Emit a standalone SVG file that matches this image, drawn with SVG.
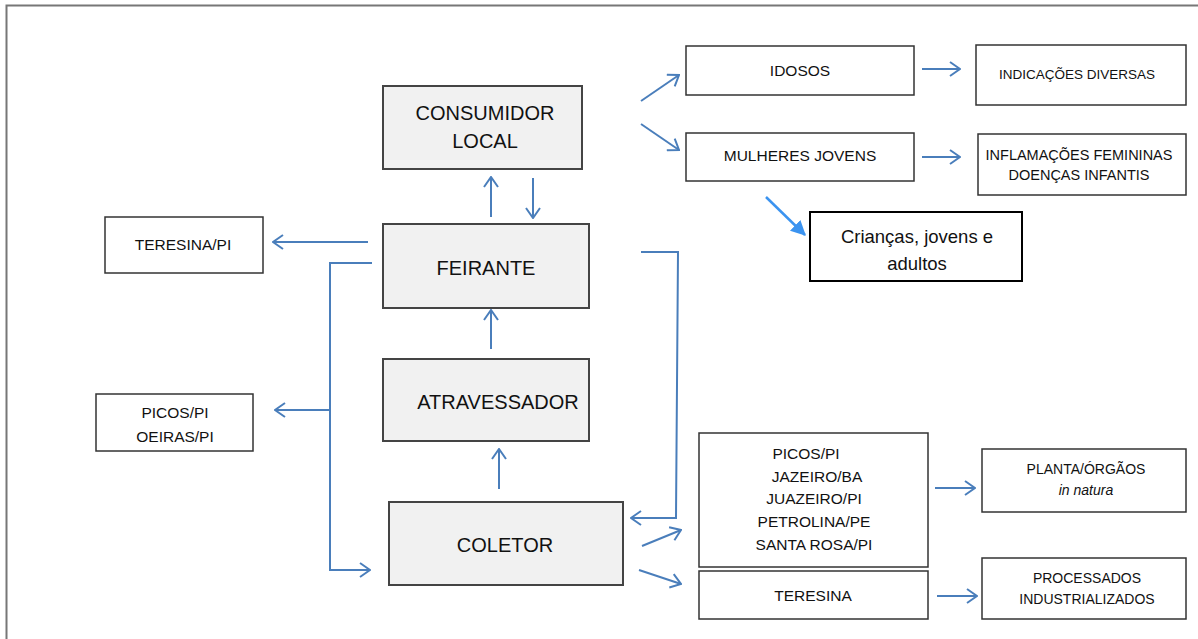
<svg xmlns="http://www.w3.org/2000/svg" width="1198" height="639" viewBox="0 0 1198 639">
<defs>
<style>
.box{fill:#fff;stroke:#333;stroke-width:1.5}
.gbox{fill:#f1f1f1;stroke:#444;stroke-width:2}
.t{font-family:"Liberation Sans",Arial,sans-serif;fill:#111;text-anchor:middle}
.big{font-size:20px}
.sm{font-size:14px}
.md{font-size:15.5px}
.c{stroke:#4a7ebb;stroke-width:2;fill:none}
</style>
<marker id="a" viewBox="0 0 12 16" refX="11" refY="8" markerWidth="12" markerHeight="16" markerUnits="userSpaceOnUse" orient="auto">
<path d="M1,1 L11,8 L1,15" fill="none" stroke="#4a7ebb" stroke-width="2"/>
</marker>
<marker id="f" viewBox="0 0 12 12" refX="11" refY="6" markerWidth="15" markerHeight="15" markerUnits="userSpaceOnUse" orient="auto">
<path d="M0,0 L12,6 L0,12 Z" fill="#3b93f0"/>
</marker>
</defs>
<rect width="1198" height="639" fill="#fff"/>
<path d="M6.5,639 V5.5 H1198" fill="none" stroke="#777" stroke-width="2"/>

<g id="consumidor"><rect class="gbox" x="383" y="86" width="199" height="83"/><text class="t big" x="485" y="120">CONSUMIDOR</text><text class="t big" x="485" y="148">LOCAL</text></g>
<g id="idosos"><rect class="box" x="686" y="46" width="228" height="49"/><text class="t md" x="800" y="76">IDOSOS</text></g>
<g id="indicacoes"><rect class="box" x="976" y="45" width="210" height="60"/><text class="t" font-size="13.5" x="1077" y="79">INDICAÇÕES DIVERSAS</text></g>
<g id="mulheres"><rect class="box" x="686" y="133" width="228" height="48"/><text class="t md" x="800" y="161">MULHERES JOVENS</text></g>
<g id="inflamacoes"><rect class="box" x="978" y="134" width="208" height="61"/><text class="t" font-size="14.5" x="1079" y="160">INFLAMAÇÕES  FEMININAS</text><text class="t" font-size="14.5" x="1079" y="180">DOENÇAS INFANTIS</text></g>
<g id="criancas"><rect x="810" y="212" width="212" height="69" fill="#fff" stroke="#000" stroke-width="2"/><text class="t" font-size="18.5" x="917" y="243">Crianças, jovens e</text><text class="t" font-size="18.5" x="917" y="270">adultos</text></g>
<g id="teresinapi"><rect class="box" x="105" y="217" width="158" height="56"/><text class="t md" x="183" y="250">TERESINA/PI</text></g>
<g id="feirante"><rect class="gbox" x="383" y="224" width="206" height="84"/><text class="t big" x="486" y="275">FEIRANTE</text></g>
<g id="atravessador"><rect class="gbox" x="383" y="359" width="206" height="82"/><text class="t big" x="498" y="409">ATRAVESSADOR</text></g>
<g id="picosoeiras"><rect class="box" x="96" y="394" width="157" height="57"/><text class="t md" x="175" y="418">PICOS/PI</text><text class="t md" x="175" y="442">OEIRAS/PI</text></g>
<g id="coletor"><rect class="gbox" x="389" y="502" width="234" height="83"/><text class="t big" x="505" y="552">COLETOR</text></g>
<g id="cidades"><rect class="box" x="699" y="433" width="229" height="134"/>
<text class="t md" x="806" y="459">PICOS/PI</text><text class="t md" x="817" y="482">JAZEIRO/BA</text><text class="t md" x="814" y="504">JUAZEIRO/PI</text><text class="t md" x="814" y="527">PETROLINA/PE</text><text class="t md" x="814" y="550">SANTA ROSA/PI</text></g>
<g id="teresina"><rect class="box" x="699" y="571" width="229" height="48"/><text class="t md" x="813" y="601">TERESINA</text></g>
<g id="planta"><rect class="box" x="982" y="449" width="204" height="63"/><text class="t sm" x="1086" y="474">PLANTA/ÓRGÃOS</text><text class="t sm" x="1086" y="495" font-style="italic">in natura</text></g>
<g id="processados"><rect class="box" x="982" y="558" width="204" height="61"/><text class="t sm" x="1087" y="583">PROCESSADOS</text><text class="t sm" x="1087" y="604">INDUSTRIALIZADOS</text></g>

<g id="connectors">
<line class="c" x1="641" y1="101" x2="679" y2="75" marker-end="url(#a)"/>
<line class="c" x1="641" y1="124" x2="679" y2="150" marker-end="url(#a)"/>
<line class="c" x1="922" y1="69" x2="960" y2="69" marker-end="url(#a)"/>
<line class="c" x1="922" y1="157" x2="960" y2="157" marker-end="url(#a)"/>
<line x1="766" y1="197" x2="805" y2="235" stroke="#3b93f0" stroke-width="2.5" marker-end="url(#f)"/>
<line class="c" x1="491" y1="217" x2="491" y2="177" marker-end="url(#a)"/>
<line class="c" x1="533" y1="178" x2="533" y2="218" marker-end="url(#a)"/>
<line class="c" x1="368" y1="242" x2="273" y2="242" marker-end="url(#a)"/>
<polyline class="c" points="372,263 330,263 330,570 370,570" marker-end="url(#a)"/>
<line class="c" x1="330" y1="410" x2="275" y2="410" marker-end="url(#a)"/>
<polyline class="c" points="641,252 678,252 676,518 631,518" marker-end="url(#a)"/>
<line class="c" x1="491" y1="349" x2="491" y2="310" marker-end="url(#a)"/>
<line class="c" x1="499" y1="489" x2="499" y2="449" marker-end="url(#a)"/>
<line class="c" x1="642" y1="546" x2="681" y2="530" marker-end="url(#a)"/>
<line class="c" x1="639" y1="570" x2="681" y2="584" marker-end="url(#a)"/>
<line class="c" x1="935" y1="488" x2="975" y2="488" marker-end="url(#a)"/>
<line class="c" x1="937" y1="596" x2="977" y2="596" marker-end="url(#a)"/>
</g>
</svg>
